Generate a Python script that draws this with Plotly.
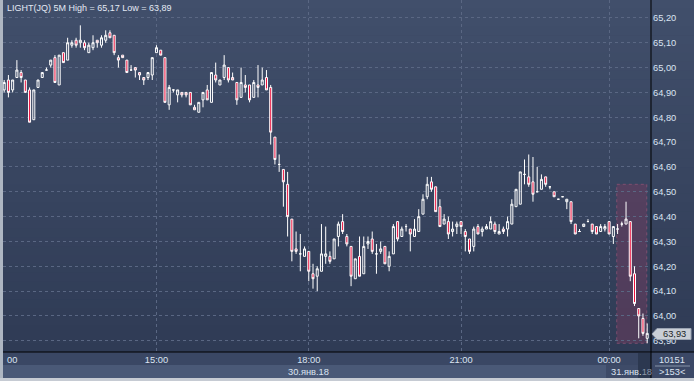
import plotly.graph_objects as go

# ---------------- data (5-minute bars, LIGHT(JQ)) ----------------
opens = [64.91, 64.95, 64.91, 64.96, 64.98, 64.95, 64.91, 64.79, 64.92, 64.96,
         64.99, 65.01, 65.04, 64.93, 65.06, 65.03, 65.09, 65.11, 65.10, 65.10,
         65.06, 65.08, 65.11, 65.09, 65.11, 65.14, 65.13, 65.04, 65.05, 65.03,
         64.99, 65.00, 64.98, 64.96, 64.96, 64.97, 65.06, 65.07, 65.04, 64.85,
         64.91, 64.89, 64.90, 64.90, 64.90, 64.84, 64.82, 64.87, 64.91, 64.86,
         64.97, 64.93, 64.96, 65.00, 64.96, 64.94, 64.88, 64.93, 64.93, 64.88,
         64.93, 64.93, 64.96, 64.92, 64.72, 64.61, 64.59, 64.53, 64.39, 64.27,
         64.25, 64.24, 64.26, 64.17, 64.16, 64.18, 64.24, 64.24, 64.23, 64.32,
         64.38, 64.32, 64.28, 64.15, 64.24, 64.17, 64.29, 64.31, 64.25, 64.26,
         64.28, 64.20, 64.25, 64.38, 64.32, 64.36, 64.35, 64.32, 64.34, 64.41,
         64.48, 64.54, 64.52, 64.44, 64.37, 64.38, 64.34, 64.36, 64.38, 64.34,
         64.31, 64.28, 64.36, 64.34, 64.35, 64.35, 64.37, 64.33, 64.35, 64.35,
         64.37, 64.44, 64.45, 64.57, 64.56, 64.54, 64.50, 64.51, 64.56, 64.52,
         64.50, 64.47, 64.48, 64.46, 64.46, 64.37, 64.34, 64.36, 64.38, 64.37,
         64.36, 64.34, 64.35, 64.38, 64.32, 64.35, 64.37, 64.37, 64.38, 64.17,
         64.03, 63.99, 63.91]
highs = [64.95, 64.97, 64.95, 65.03, 64.99, 64.95, 64.92, 64.91, 64.95, 64.98,
         65.00, 65.03, 65.05, 65.05, 65.06, 65.12, 65.11, 65.12, 65.17, 65.11,
         65.10, 65.13, 65.11, 65.13, 65.15, 65.15, 65.13, 65.05, 65.05, 65.03,
         65.01, 65.00, 64.98, 64.96, 64.98, 65.04, 65.09, 65.07, 65.04, 64.93,
         64.91, 64.91, 64.90, 64.90, 64.90, 64.85, 64.86, 64.90, 64.93, 64.98,
         65.02, 64.95, 65.05, 65.00, 64.98, 64.94, 65.00, 64.97, 64.93, 64.95,
         65.01, 65.00, 64.99, 64.93, 64.72, 64.65, 64.59, 64.58, 64.39, 64.34,
         64.33, 64.28, 64.26, 64.21, 64.20, 64.37, 64.36, 64.26, 64.31, 64.38,
         64.41, 64.33, 64.28, 64.23, 64.32, 64.32, 64.32, 64.34, 64.29, 64.30,
         64.28, 64.26, 64.37, 64.38, 64.36, 64.37, 64.35, 64.39, 64.43, 64.49,
         64.56, 64.56, 64.52, 64.47, 64.41, 64.40, 64.38, 64.38, 64.38, 64.35,
         64.31, 64.36, 64.37, 64.36, 64.37, 64.40, 64.38, 64.37, 64.36, 64.40,
         64.47, 64.51, 64.58, 64.63, 64.65, 64.64, 64.60, 64.57, 64.56, 64.52,
         64.50, 64.47, 64.48, 64.47, 64.46, 64.37, 64.35, 64.37, 64.39, 64.37,
         64.36, 64.37, 64.37, 64.38, 64.36, 64.37, 64.38, 64.46, 64.38, 64.20,
         64.03, 64.01, 63.97]
lows = [64.90, 64.88, 64.90, 64.96, 64.94, 64.90, 64.78, 64.79, 64.92, 64.96,
        64.99, 65.00, 64.94, 64.93, 65.02, 65.03, 65.08, 65.08, 65.08, 65.07,
        65.06, 65.07, 65.08, 65.08, 65.10, 65.12, 65.05, 65.00, 65.04, 64.98,
        64.99, 64.96, 64.95, 64.93, 64.95, 64.95, 65.06, 65.05, 64.86, 64.83,
        64.90, 64.86, 64.88, 64.88, 64.85, 64.83, 64.82, 64.84, 64.87, 64.86,
        64.94, 64.93, 64.95, 64.94, 64.95, 64.85, 64.88, 64.90, 64.86, 64.88,
        64.88, 64.93, 64.91, 64.69, 64.61, 64.58, 64.44, 64.32, 64.22, 64.25,
        64.18, 64.24, 64.14, 64.11, 64.10, 64.18, 64.21, 64.21, 64.23, 64.28,
        64.33, 64.28, 64.12, 64.15, 64.16, 64.17, 64.27, 64.25, 64.17, 64.25,
        64.21, 64.18, 64.25, 64.30, 64.32, 64.34, 64.26, 64.32, 64.34, 64.41,
        64.47, 64.50, 64.42, 64.36, 64.37, 64.31, 64.32, 64.33, 64.33, 64.26,
        64.25, 64.26, 64.33, 64.32, 64.35, 64.35, 64.33, 64.33, 64.33, 64.32,
        64.37, 64.44, 64.45, 64.53, 64.52, 64.46, 64.50, 64.51, 64.52, 64.51,
        64.48, 64.47, 64.48, 64.43, 64.37, 64.33, 64.34, 64.36, 64.38, 64.33,
        64.33, 64.34, 64.34, 64.33, 64.29, 64.33, 64.36, 64.37, 64.14, 64.04,
        63.91, 63.92, 63.89]
closes = [64.94, 64.90, 64.95, 64.99, 64.96, 64.90, 64.78, 64.91, 64.95, 64.98,
          64.99, 65.03, 64.94, 65.05, 65.02, 65.10, 65.10, 65.09, 65.11, 65.08,
          65.09, 65.10, 65.10, 65.12, 65.13, 65.12, 65.06, 65.03, 65.04, 64.98,
          64.99, 64.99, 64.97, 64.95, 64.98, 65.04, 65.08, 65.05, 64.86, 64.92,
          64.91, 64.91, 64.89, 64.89, 64.85, 64.83, 64.86, 64.90, 64.87, 64.98,
          64.95, 64.95, 65.01, 64.95, 64.95, 64.87, 64.94, 64.92, 64.87, 64.94,
          64.92, 64.95, 64.91, 64.74, 64.63, 64.61, 64.54, 64.40, 64.26, 64.26,
          64.25, 64.27, 64.18, 64.15, 64.19, 64.25, 64.25, 64.22, 64.31, 64.37,
          64.34, 64.29, 64.16, 64.23, 64.16, 64.28, 64.30, 64.26, 64.25, 64.27,
          64.21, 64.24, 64.36, 64.31, 64.35, 64.36, 64.33, 64.35, 64.40, 64.47,
          64.53, 64.51, 64.42, 64.36, 64.39, 64.33, 64.35, 64.37, 64.36, 64.32,
          64.26, 64.35, 64.33, 64.35, 64.36, 64.38, 64.34, 64.34, 64.34, 64.38,
          64.45, 64.51, 64.58, 64.57, 64.53, 64.49, 64.50, 64.55, 64.53, 64.52,
          64.48, 64.47, 64.48, 64.47, 64.38, 64.33, 64.34, 64.37, 64.38, 64.34,
          64.33, 64.36, 64.36, 64.33, 64.36, 64.35, 64.37, 64.39, 64.16, 64.05,
          64.00, 63.93, 63.93]

bar_index = list(range(len(opens)))

time_tick_bars = [36, 72, 108, 143]
time_tick_labels = ["15:00", "18:00", "21:00", "00:00"]

price_ticks = [63.9, 64.0, 64.1, 64.2, 64.3, 64.4, 64.5, 64.6, 64.7, 64.8, 64.9, 65.0, 65.1, 65.2]
price_tick_labels = [f"{v:.2f}".replace(".", ",") for v in price_ticks]

title_text = "LIGHT(JQ) 5M High = 65,17 Low = 63,89"
last_price_label = "63,93"
date_labels = ["30.янв.18", "31.янв."]
bar_count_label = "10151"
visible_bars_label = ">153<"

# highlighted zone (last bars)
zone_bars = (144.8, 151.9)
zone_prices = (63.89, 64.53)

# ---------------- layout geometry (pixels) ----------------
W, H = 694, 381
ML, MR, MT, MB = 3, 43, 0, 29
PW, PH = W - ML - MR, H - MT - MB


def PX(x):
    return (x - ML) / PW


def PY(y):
    return (PH - y) / PH


FONT = "Liberation Sans, Arial, sans-serif"
FS = 9.3
TXT = "#dbe4f2"

fig = go.Figure()
fig.add_trace(go.Candlestick(
    x=bar_index, open=opens, high=highs, low=lows, close=closes,
    increasing=dict(line=dict(color="#ffffff", width=1), fillcolor="rgba(0,0,0,0)"),
    decreasing=dict(line=dict(color="#ffffff", width=1), fillcolor="#ec0f3c"),
    whiskerwidth=0, hoverinfo="skip", showlegend=False,
))

shapes = []
# background gradient (plot + right axis)
top_c = (0x41, 0x4f, 0x6b)
bot_c = (0x2f, 0x3b, 0x55)
N = 40
for i in range(N):
    t = (i + 0.5) / N
    c = tuple(round(top_c[k] + (bot_c[k] - top_c[k]) * t) for k in range(3))
    y0 = i * PH / N
    y1 = (i + 1) * PH / N + 0.5
    shapes.append(dict(type="rect", xref="paper", yref="paper", layer="below",
                       x0=PX(ML), x1=PX(W), y0=PY(y1), y1=PY(y0),
                       fillcolor="rgb(%d,%d,%d)" % c, line=dict(width=0)))
# bottom rows
shapes += [
    dict(type="rect", xref="paper", yref="paper", layer="below",
         x0=PX(ML), x1=PX(651), y0=PY(365), y1=PY(352), fillcolor="#3a4764", line=dict(width=0)),
    dict(type="rect", xref="paper", yref="paper", layer="below",
         x0=PX(ML), x1=PX(651), y0=PY(378), y1=PY(365), fillcolor="#4a5977", line=dict(width=0)),
    dict(type="rect", xref="paper", yref="paper", layer="below",
         x0=PX(606), x1=PX(638), y0=PY(378), y1=PY(365), fillcolor="#3e4b68", line=dict(width=0)),
    dict(type="rect", xref="paper", yref="paper", layer="below",
         x0=PX(638), x1=PX(651), y0=PY(378), y1=PY(353), fillcolor="#2c3850", line=dict(width=0)),
    dict(type="rect", xref="paper", yref="paper", layer="below",
         x0=PX(651), x1=PX(W), y0=PY(378), y1=PY(352), fillcolor="#3b4866", line=dict(width=0)),
]
# highlighted zone
shapes.append(dict(type="rect", xref="x", yref="y", layer="below",
                   x0=zone_bars[0], x1=zone_bars[1], y0=zone_prices[0], y1=zone_prices[1],
                   fillcolor="rgba(120,60,95,0.45)",
                   line=dict(color="rgba(150,85,120,0.7)", width=1, dash="dot")))
# frame lines
shapes += [
    dict(type="line", xref="paper", yref="paper", layer="above",
         x0=PX(651), x1=PX(651), y0=PY(H), y1=PY(0), line=dict(color="#000000", width=1)),
    dict(type="line", xref="paper", yref="paper", layer="above",
         x0=PX(ML), x1=PX(W), y0=PY(352), y1=PY(352), line=dict(color="#000000", width=1)),
    dict(type="line", xref="paper", yref="paper", layer="above",
         x0=PX(655), x1=PX(690), y0=PY(366), y1=PY(366), line=dict(color="#8793a8", width=1)),
    dict(type="rect", xref="paper", yref="paper", layer="above",
         x0=PX(0), x1=PX(ML), y0=PY(H), y1=PY(0), fillcolor="#aeb6c2", line=dict(width=0)),
    dict(type="rect", xref="paper", yref="paper", layer="above",
         x0=PX(0), x1=PX(W), y0=PY(H), y1=PY(378), fillcolor="#c6cbd3", line=dict(width=0)),
]
# last price marker
pts = [(652, 334), (657, 328.5), (691, 328.5), (691, 339.5), (657, 339.5)]
path = "M " + " L ".join(f"{PX(x):.5f},{PY(y):.5f}" for x, y in pts) + " Z"
shapes.append(dict(type="path", xref="paper", yref="paper", layer="above", path=path,
                   fillcolor="#c9ced6", line=dict(color="#9aa3b2", width=1)))

annotations = [
    dict(text=title_text, x=PX(5), y=PY(8), xref="paper", yref="paper",
         xanchor="left", yanchor="middle", showarrow=False,
         font=dict(family=FONT, size=9, color="#e3e9f4")),
    dict(text="00", x=PX(5), y=PY(360), xref="paper", yref="paper",
         xanchor="left", yanchor="middle", showarrow=False,
         font=dict(family=FONT, size=FS, color=TXT)),
    dict(text=date_labels[0], x=PX(308.5), y=PY(372), xref="paper", yref="paper",
         xanchor="center", yanchor="middle", showarrow=False,
         font=dict(family=FONT, size=FS, color=TXT)),
    dict(text=date_labels[1] + "<span style='color:#8a95a8'>18</span>", x=PX(609), y=PY(372),
         xref="paper", yref="paper", xanchor="left", yanchor="middle", showarrow=False,
         font=dict(family=FONT, size=FS, color=TXT)),
    dict(text=bar_count_label, x=PX(672), y=PY(359.5), xref="paper", yref="paper",
         xanchor="center", yanchor="middle", showarrow=False,
         font=dict(family=FONT, size=FS, color=TXT)),
    dict(text=visible_bars_label, x=PX(672), y=PY(372), xref="paper", yref="paper",
         xanchor="center", yanchor="middle", showarrow=False,
         font=dict(family=FONT, size=FS, color=TXT)),
    dict(text=last_price_label, x=PX(674), y=PY(334), xref="paper", yref="paper",
         xanchor="center", yanchor="middle", showarrow=False,
         font=dict(family=FONT, size=FS, color="#1b1f27")),
]

fig.update_layout(
    width=W, height=H,
    margin=dict(l=ML, r=MR, t=MT, b=MB, pad=0),
    paper_bgcolor="#36435e",
    plot_bgcolor="rgba(0,0,0,0)",
    boxgap=0.32,
    shapes=shapes,
    annotations=annotations,
    showlegend=False,
    xaxis=dict(
        range=[-0.28, 152.9], rangeslider=dict(visible=False),
        tickmode="array", tickvals=time_tick_bars, ticktext=time_tick_labels,
        showgrid=True, gridcolor="#5a6783", griddash="3px,3px", gridwidth=1,
        zeroline=False, showline=False, ticks="",
        tickfont=dict(family=FONT, size=FS, color=TXT), ticklabelstandoff=1,
        fixedrange=True,
    ),
    yaxis=dict(
        range=[63.855, 65.272], side="right",
        tickmode="array", tickvals=price_ticks, ticktext=price_tick_labels,
        showgrid=True, gridcolor="#5a6783", griddash="3px,3px", gridwidth=1,
        zeroline=False, showline=False, ticks="",
        tickfont=dict(family=FONT, size=FS, color=TXT), ticklabelstandoff=1,
        fixedrange=True,
    ),
)

fig.write_html("out.html", config={"displayModeBar": False})
